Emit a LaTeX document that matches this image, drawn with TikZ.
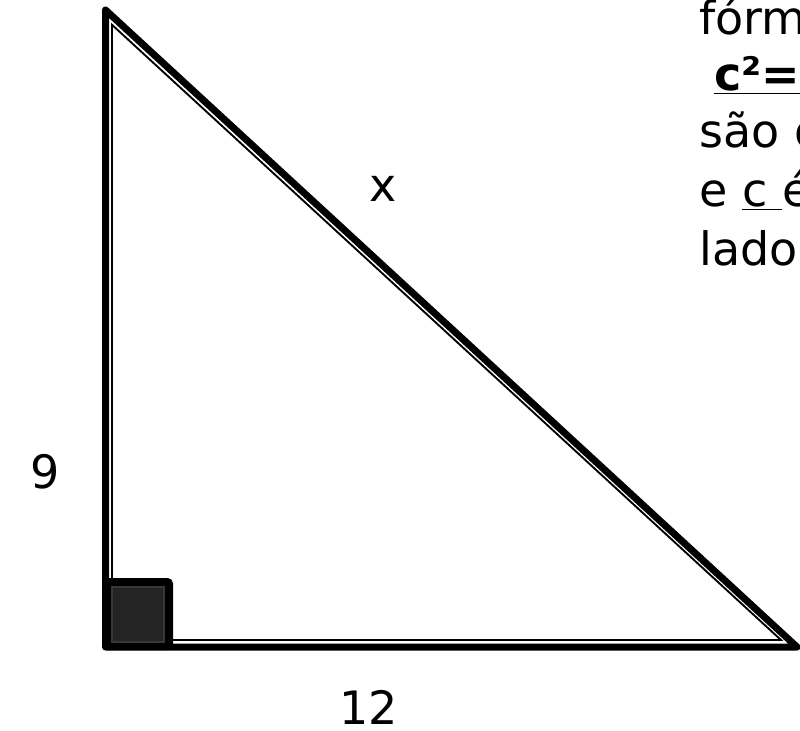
\documentclass[tikz,border=0pt]{standalone}
\usepackage{fontspec}
\setmainfont{DejaVu Sans}
\usetikzlibrary{calc}

\begin{document}
\begin{tikzpicture}[x=0.75pt,y=-0.75pt,
    contorno/.style={line width=5.25pt, line join=round},
    filete/.style={line width=1.4pt, line join=miter},
    rotulo/.style={inner sep=0pt, font=\fontsize{34.5}{43}\selectfont},
    texto/.style={rotulo, anchor=base west}]
    \useasboundingbox (0,0) rectangle (800,731);
    \clip (0,0) rectangle (800,731);

    % vértices
    \coordinate (topo) at (105.5,10);
    \coordinate (canto) at (105.5,647);
    \coordinate (ponta) at (797,647);
    \coordinate (topo2) at (112,24.8);
    \coordinate (canto2) at (112,640);
    \coordinate (ponta2) at (781,640);

    % triângulo (linha grossa por fora, filete por dentro)
    \draw[contorno] (topo) -- (canto) -- (ponta) -- cycle;
    \draw[filete] (topo2) -- (canto2) -- (ponta2) -- cycle;

    % ângulo reto
    \fill[rounded corners=4pt] (102,578) rectangle (173,650);
    \draw[fill=black!86, draw=black!78, line width=1.5pt] (111.5,586.5) rectangle (164,641.5);

    % medidas
    \node[rotulo] (hip) at (383,188.5) {x};
    \node[rotulo] (cat1) at (45,472) {9};
    \node[rotulo] (cat2) at (369,707) {12};

    % texto à direita
    \node[texto] (l1) at (699,35) {fórm};
    \node[texto] (l2) at (714,91) {\underline{\textbf{c²=}}};
    \node[texto] (l3) at (699,148) {são o};
    \node[texto] (l4) at (699,207) {e \underline{c\ }é};
    \node[texto] (l5) at (699,265) {lado};
\end{tikzpicture}
\end{document}
